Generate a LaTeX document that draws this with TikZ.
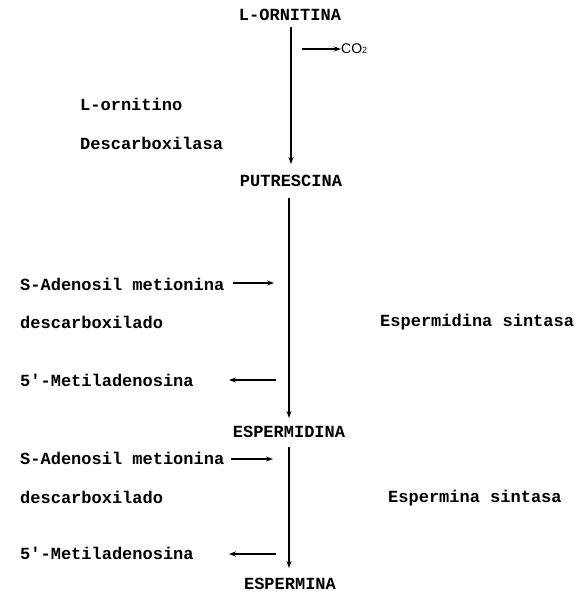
\documentclass[tikz,border=0pt]{standalone}
\usepackage{fontspec}
\setmonofont{Liberation Mono}
\setsansfont{Liberation Sans}
\usetikzlibrary{arrows.meta}
\begin{document}
\begin{tikzpicture}[x=1pt,y=-1pt,
  lbl/.style={font=\fontsize{17}{20}\selectfont\ttfamily\bfseries, inner sep=0pt},
  llbl/.style={lbl, anchor=west},
  conn/.style={line width=1.3pt, -{Stealth[length=7pt,width=5pt]}},
  side/.style={line width=1.2pt, -{Stealth[length=7pt,width=5pt]}}]
\useasboundingbox (0,0) rectangle (584,596);
\node[lbl] (orn) at (290,15) {L-ORNITINA};
\node[lbl] (put) at (291,181) {PUTRESCINA};
\node[lbl] (spd) at (289,432) {ESPERMIDINA};
\node[lbl] (spm) at (290,584) {ESPERMINA};
\coordinate (a1) at (291,27);
\coordinate (a2) at (291,164);
\draw[conn] (a1) -- (a2);
\coordinate (b1) at (289,198);
\coordinate (b2) at (289,418);
\draw[conn] (b1) -- (b2);
\coordinate (c1) at (289,447);
\coordinate (c2) at (289,568);
\draw[conn] (c1) -- (c2);
% CO2
\node[font=\fontsize{14}{16}\selectfont\sffamily, anchor=west, inner sep=0pt] (co2) at (341,49) {CO{\fontsize{9}{10}\selectfont 2}};
\coordinate (co2s) at (302,49);
\draw[side] (co2s) -- (co2.west);
% enzyme 1
\node[llbl] (e1a) at (80,104) {L-ornitino};
\node[llbl] (e1b) at (80,143) {Descarboxilasa};
% step 2
\node[llbl] (sam1) at (20,284) {S-Adenosil metionina};
\node[llbl] (dsc1) at (20,322) {descarboxilado};
\node[llbl] (es1) at (380,322) {Espermidina sintasa};
\node[llbl] (mta1) at (20,380) {5'-Metiladenosina};
\coordinate (s1a) at (233,283);
\coordinate (s1b) at (274,283);
\draw[side] (s1a) -- (s1b);
\coordinate (m1a) at (276,380);
\coordinate (m1b) at (229,380);
\draw[side] (m1a) -- (m1b);
% step 3
\node[llbl] (sam2) at (20,458) {S-Adenosil metionina};
\node[llbl] (dsc2) at (20,497) {descarboxilado};
\node[llbl] (es2) at (388,498) {Espermina sintasa};
\node[llbl] (mta2) at (20,553) {5'-Metiladenosina};
\coordinate (s2a) at (231,459);
\coordinate (s2b) at (273,459);
\draw[side] (s2a) -- (s2b);
\coordinate (m2a) at (276,554);
\coordinate (m2b) at (229,554);
\draw[side] (m2a) -- (m2b);
\end{tikzpicture}
\end{document}
